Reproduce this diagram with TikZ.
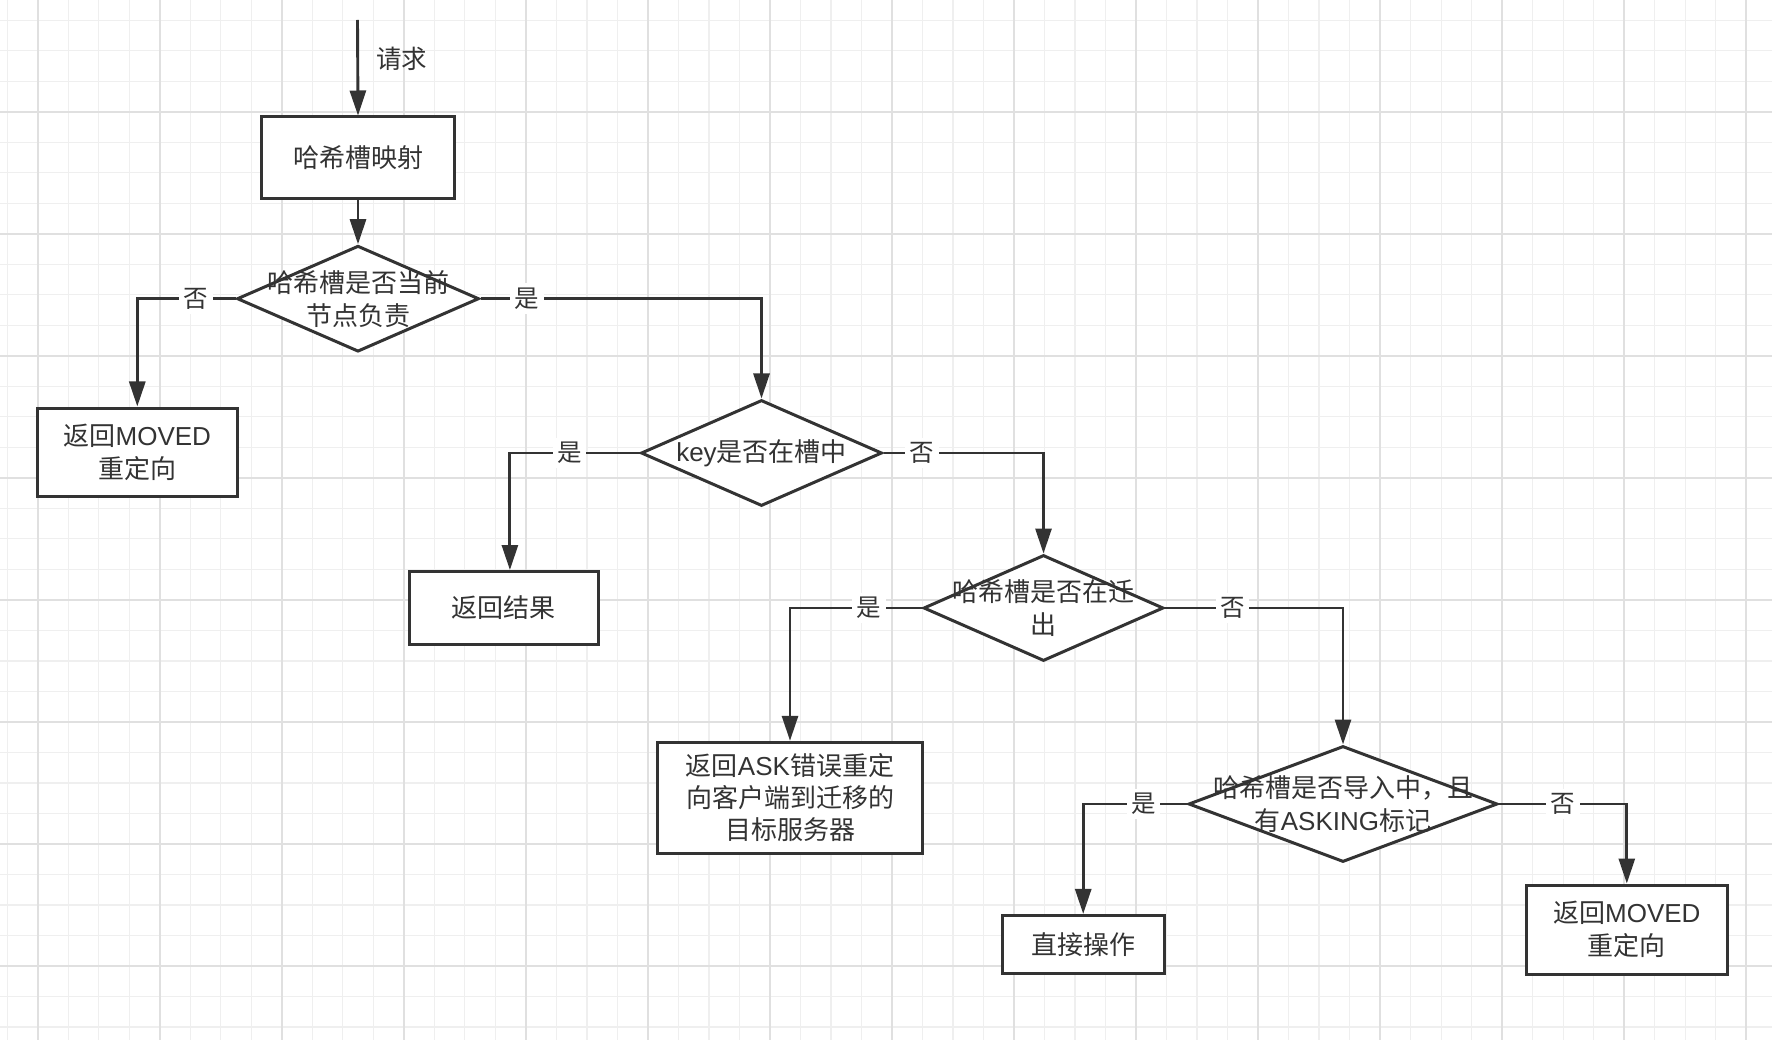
\documentclass[tikz,border=0pt]{standalone}
\usepackage{fontspec}
\setmainfont{Noto Sans CJK SC}
\newfontfamily\lat{Liberation Sans}
\usetikzlibrary{arrows.meta,shapes.geometric}
\definecolor{ink}{HTML}{333333}
\definecolor{gminor}{HTML}{EFEFEF}
\definecolor{gmajor}{HTML}{E0E0E0}
\begin{document}
\begin{tikzpicture}[x=1pt,y=-1pt,
  box/.style={draw=ink, line width=3pt, fill=white, rectangle, inner sep=0pt,
    align=center, text=ink, font=\fontsize{26pt}{33pt}\selectfont},
  dia/.style={draw=ink, line width=3pt, fill=white, diamond, inner sep=0pt},
  dtext/.style={align=center, text=ink, inner sep=0pt, font=\fontsize{26pt}{33pt}\selectfont},
  flow/.style={draw=ink, line width=2.9pt, -{Triangle[length=25pt,width=16pt]}},
  elbl/.style={fill=white, text=ink, inner sep=4.5pt, font=\fontsize{24.5pt}{27pt}\selectfont},
  gmin/.style={draw=gminor, line width=1.3pt},
  gmaj/.style={draw=gmajor, line width=1.7pt},
]
\useasboundingbox (0,0) rectangle (1772,1040);
\fill[white] (0,0) rectangle (1772,1040);
% grid
\foreach \i in {-1,...,56} { \draw[gmin] ({37.7+\i*30.51},0) -- ({37.7+\i*30.51},1040); }
\foreach \j in {-3,...,30} { \draw[gmin] (0,{111.7+\j*30.51}) -- (1772,{111.7+\j*30.51}); }
\foreach \i in {0,...,14} { \draw[gmaj] ({37.7+\i*122.04},0) -- ({37.7+\i*122.04},1040); }
\foreach \j in {0,...,7} { \draw[gmaj] (0,{111.7+\j*122.04}) -- (1772,{111.7+\j*122.04}); }

% nodes
\coordinate (start) at (357.5,20);
\node[box, minimum width=193, minimum height=82] (map) at (358,158) {哈希槽映射};
\node[dia, minimum width=242, minimum height=106] (d1) at (358,298.7) {};
\node[dtext] (t1) at (d1) {哈希槽是否当前\\节点负责};
\node[box, minimum width=200, minimum height=88] (b2) at (137.3,452) {返回{\lat MOVED}\\重定向};
\node[dia, minimum width=241, minimum height=106] (d2) at (761.5,453) {};
\node[dtext] (t2) at (d2) {{\lat key}是否在槽中};
\node[box, minimum width=189, minimum height=73] (b3) at (503.6,608) {返回结果};
\node[dia, minimum width=240, minimum height=106] (d3) at (1043.5,608) {};
\node[dtext] (t3) at (d3) {哈希槽是否在迁\\出};
\node[box, minimum width=264.5, minimum height=111, font=\fontsize{26pt}{32pt}\selectfont] (b4) at (790,797.8) {返回{\lat ASK}错误重定\\向客户端到迁移的\\目标服务器};
\node[dia, minimum width=309, minimum height=116] (d4) at (1343,804) {};
\node[dtext] (t4) at (d4) {哈希槽是否导入中，且\\有{\lat ASKING}标记};
\node[box, minimum width=161.6, minimum height=57.6] (b5) at (1083.2,944.2) {直接操作};
\node[box, minimum width=200.5, minimum height=89] (b6) at (1626.8,929.5) {返回{\lat MOVED}\\重定向};

% connectors
\draw[flow] (start) -- (map.north)
  node[pos=0.41, anchor=west, xshift=17pt, inner sep=0pt, text=ink, font=\fontsize{25.5pt}{28pt}\selectfont] {请求};
\draw[flow] (map.south) -- (d1.north);
\draw[flow] (d1.west) -| (b2.north) node[elbl, pos=0.2] {否};
\draw[flow] (d1.east) -| (d2.north) node[elbl, pos=0.083] {是};
\draw[flow] (d2.west) -| ([xshift=6.3pt]b3.north) node[elbl, pos=0.27] {是};
\draw[flow] (d2.east) -| (d3.north) node[elbl, pos=0.12] {否};
\draw[flow] (d3.west) -| (b4.north) node[elbl, pos=0.2] {是};
\draw[flow] (d3.east) -| (d4.north) node[elbl, pos=0.19] {否};
\draw[flow] (d4.west) -| (b5.north) node[elbl, pos=0.21] {是};
\draw[flow] (d4.east) -| (b6.north) node[elbl, pos=0.25] {否};
\end{tikzpicture}
\end{document}
